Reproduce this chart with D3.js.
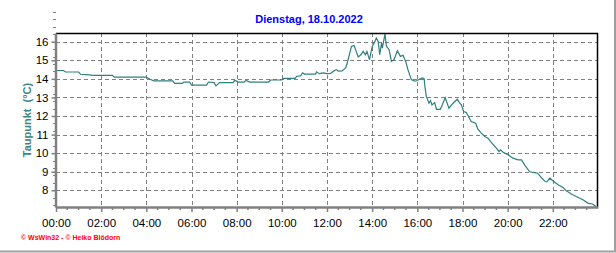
<!DOCTYPE html>
<html>
<head>
<meta charset="utf-8">
<script src="https://cdn.jsdelivr.net/npm/d3@7"></script>
<style>
  body { margin: 0; background: #fff; }
  svg { display: block; font-family: "Liberation Sans", Arial, sans-serif; }
</style>
</head>
<body>
<svg id="chart" width="616" height="253"></svg>
<script>
const title = "Dienstag, 18.10.2022";
const yLabel = "Taupunkt  (°C)";
const footer = "© WsWin32 - © Heiko Blödorn";

// dew point readings (time of day, °C)
const times = [
  "00:00", "00:20", "00:25", "01:00", "01:05", "01:30", "01:35", "02:30", "02:35", "04:00",
  "04:10", "04:20", "05:10", "05:15", "05:35", "05:40", "05:55", "06:00", "06:40", "06:45",
  "07:00", "07:05", "07:15", "07:50", "07:55", "08:05", "08:20", "08:25", "08:35", "09:25",
  "09:30", "10:00", "10:05", "10:35", "10:40", "10:50", "10:55", "11:00", "11:30", "11:32",
  "11:40", "11:50", "12:00", "12:10", "12:20", "12:25", "12:30", "12:40", "12:50", "12:55",
  "13:05", "13:12", "13:23", "13:30", "13:36", "13:42", "13:46", "13:53", "14:00", "14:06",
  "14:11", "14:16", "14:20", "14:25", "14:27", "14:34", "14:38", "14:45", "14:51", "14:58",
  "15:07", "15:15", "15:22", "15:29", "15:35", "15:44", "15:53", "15:58", "16:13", "16:18",
  "16:20", "16:24", "16:31", "16:35", "16:39", "16:46", "16:51", "17:01", "17:07", "17:14",
  "17:24", "17:35", "17:46", "17:53", "17:57", "18:03", "18:10", "18:16", "18:23", "18:35",
  "18:41", "18:50", "18:59", "19:08", "19:17", "19:30", "19:37", "19:41", "19:48", "20:01",
  "20:14", "20:28", "20:37", "20:45", "20:58", "21:07", "21:20", "21:29", "21:40", "21:44",
  "21:52", "22:00", "22:14", "22:27", "22:36", "22:49", "23:02", "23:20", "23:33", "23:45",
  "23:55"
];
const values = [
  14.45, 14.45, 14.37, 14.37, 14.25, 14.22, 14.19, 14.19, 14.09, 14.09,
  13.98, 13.89, 13.89, 13.76, 13.76, 13.83, 13.83, 13.66, 13.66, 13.83,
  13.80, 13.62, 13.80, 13.80, 13.92, 13.83, 13.83, 13.92, 13.83, 13.83,
  13.94, 13.94, 14.03, 14.03, 14.14, 14.16, 14.33, 14.26, 14.26, 14.38,
  14.28, 14.32, 14.28, 14.30, 14.45, 14.50, 14.42, 14.43, 14.60, 14.95,
  15.75, 15.80, 15.18, 15.30, 15.48, 15.30, 15.48, 15.03, 15.75, 15.95,
  16.20, 16.02, 15.30, 15.93, 15.66, 16.41, 15.75, 15.57, 14.95, 15.03,
  15.52, 15.21, 15.27, 14.95, 14.50, 13.96, 13.88, 13.90, 14.05, 14.02,
  13.60, 13.04, 12.69, 12.83, 12.60, 12.72, 12.36, 12.36, 12.63, 12.99,
  12.42, 12.69, 12.90, 12.69, 12.60, 12.24, 12.19, 11.97, 11.70, 11.61,
  11.29, 11.08, 10.90, 10.81, 10.57, 10.27, 10.09, 10.18, 10.05, 9.91,
  9.73, 9.64, 9.64, 9.37, 9.01, 8.96, 8.92, 8.69, 8.47, 8.45,
  8.65, 8.51, 8.30, 8.15, 7.97, 7.80, 7.67, 7.49, 7.31, 7.26,
  7.13
];
const yTicks = [8, 9, 10, 11, 12, 13, 14, 15, 16];
const yDomain = [7.1, 16.47];

const parse = d3.timeParse("%Y-%m-%d %H:%M");
const day = "2022-10-18";
const data = times.map((t, i) => ({ t: parse(`${day} ${t}`), v: values[i] }));
const start = parse(`${day} 00:00`);
const end = d3.timeDay.offset(start, 1);

const pLeft = 56, pRight = 597.5, pTop = 33, pBottom = 207;
const svg = d3.select("#chart");

const x = d3.scaleTime().domain([start, end]).range([pLeft, pRight + 0.5]);
const y = d3.scaleLinear().domain(yDomain).range([pBottom, pTop]);

// outer frame (right and bottom)
svg.append("path")
  .attr("d", "M615,0V251.5H0")
  .attr("fill", "none")
  .attr("stroke", "#a0a0a0")
  .attr("stroke-width", 2);

// title
svg.append("text")
  .attr("x", 309)
  .attr("y", 23)
  .attr("text-anchor", "middle")
  .attr("font-size", 11)
  .attr("font-weight", "bold")
  .attr("fill", "#0000ff")
  .text(title);

// grid
const grid = svg.append("g")
  .attr("stroke", "#808080")
  .attr("stroke-dasharray", "4,3")
  .attr("stroke-width", 1);
grid.selectAll("line.v")
  .data(x.ticks(d3.timeHour.every(2)).filter((d) => d > start && d < end))
  .join("line")
  .attr("class", "v")
  .attr("x1", (d) => Math.round(x(d)) + 0.5)
  .attr("x2", (d) => Math.round(x(d)) + 0.5)
  .attr("y1", pTop)
  .attr("y2", pBottom);
grid.selectAll("line.h")
  .data(yTicks)
  .join("line")
  .attr("class", "h")
  .attr("x1", pLeft)
  .attr("x2", pRight)
  .attr("y1", (d) => Math.round(y(d)) + 0.5)
  .attr("y2", (d) => Math.round(y(d)) + 0.5);

// data line
const line = d3.line()
  .x((d) => x(d.t))
  .y((d) => y(d.v))
  .curve(d3.curveLinear);
svg.append("path")
  .datum(data)
  .attr("d", line)
  .attr("fill", "none")
  .attr("stroke", "#2f7f7f")
  .attr("stroke-width", 1.2);

// top / right border
svg.append("path")
  .attr("d", `M${pLeft},${pTop + 0.5}H${pRight}V${pBottom}`)
  .attr("fill", "none")
  .attr("stroke", "#000")
  .attr("stroke-width", 1.5);

// x axis
const xAxis = svg.append("g")
  .attr("transform", `translate(0,${pBottom})`)
  .call(d3.axisBottom(x)
    .ticks(d3.timeHour.every(2))
    .tickFormat(d3.timeFormat("%H:%M"))
    .tickSize(5)
    .tickSizeOuter(0));
xAxis.selectAll(".tick").filter((d) => d >= end).remove();
xAxis.select(".domain").attr("stroke", "#808080").attr("stroke-width", 2.5);
xAxis.selectAll(".tick line").attr("stroke", "#808080").attr("stroke-width", 1.5);
xAxis.selectAll(".tick text")
  .attr("font-size", 11.5)
  .attr("font-family", "Liberation Sans, Arial, sans-serif")
  .attr("fill", "#000")
  .attr("dy", "1.05em")
  .attr("y", 8);
svg.append("g")
  .attr("stroke", "#808080")
  .attr("stroke-width", 1.5)
  .selectAll("line")
  .data(x.ticks(d3.timeMinute.every(30)).filter((d) => d.getMinutes() !== 0 || d.getHours() % 2))
  .join("line")
  .attr("x1", (d) => x(d))
  .attr("x2", (d) => x(d))
  .attr("y1", pBottom)
  .attr("y2", pBottom + 3);

// y axis
const yAxis = svg.append("g")
  .attr("transform", `translate(${pLeft - 0.5},0)`)
  .call(d3.axisLeft(y).tickValues(yTicks).tickFormat(d3.format("d")).tickSize(4).tickSizeOuter(0));
yAxis.select(".domain").attr("stroke", "#808080").attr("stroke-width", 2.5);
yAxis.selectAll(".tick line").attr("stroke", "#808080").attr("stroke-width", 1.5);
yAxis.selectAll(".tick text")
  .attr("font-size", 11.5)
  .attr("font-family", "Liberation Sans, Arial, sans-serif")
  .attr("fill", "#000")
  .attr("x", -7);
svg.append("g")
  .attr("stroke", "#808080")
  .attr("stroke-width", 1)
  .selectAll("line")
  .data(d3.range(36, 165, 2).map((d) => d / 5).filter((d) => d >= yDomain[0] && d % 1 !== 0))
  .join("line")
  .attr("x1", pLeft - 3)
  .attr("x2", pLeft)
  .attr("y1", (d) => Math.round(y(d)) + 0.5)
  .attr("y2", (d) => Math.round(y(d)) + 0.5);

// y label
svg.append("text")
  .attr("transform", "translate(31,120) rotate(-90)")
  .attr("text-anchor", "middle")
  .attr("font-size", 11)
  .attr("font-weight", "bold")
  .attr("fill", "#3a8585")
  .attr("xml:space", "preserve")
  .style("white-space", "pre")
  .text(yLabel);

// footer
svg.append("text")
  .attr("x", 21)
  .attr("y", 240)
  .attr("font-size", 7)
  .attr("font-weight", "bold")
  .attr("fill", "#ff0000")
  .text(footer);
</script>
</body>
</html>
